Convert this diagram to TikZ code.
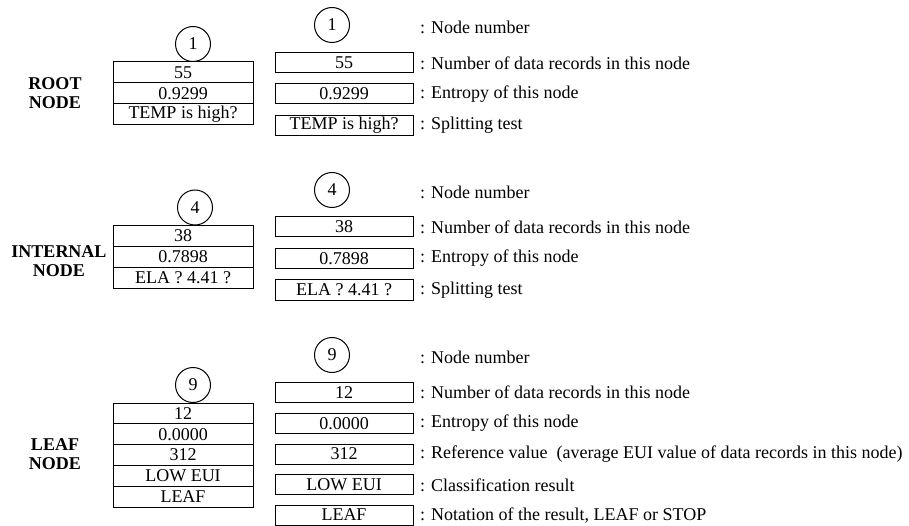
\documentclass[tikz,border=0pt]{standalone}
\usepackage{fontspec}
\setmainfont{Liberation Serif}
\begin{document}
\begin{tikzpicture}[x=1pt,y=-1pt,
  txt/.style={font=\fontsize{18}{20}\selectfont},
  cell/.style={draw,line width=1pt,minimum width=140pt,minimum height=21pt,inner sep=0pt,txt},
  lcell/.style={cell,minimum height=20.8pt},
  rbox/.style={draw,line width=1pt,minimum width=138pt,minimum height=20pt,inner sep=0pt,txt},
  num/.style={draw,circle,line width=1pt,minimum size=35pt,inner sep=0pt,txt},
  lbl/.style={anchor=west,inner sep=0pt,txt},
  kind/.style={align=center,inner sep=0pt,font=\fontsize{18}{18.5}\selectfont\bfseries}]
\useasboundingbox (0,0) rectangle (909,526);

% ---------- ROOT ----------
\node[kind] (kroot) at (55,93) {ROOT\\NODE};
\node[num] (c1) at (193,44) {1};
\node[cell] (r1) at (183,72.5) {55};
\node[cell] (r2) at (183,93.5) {0.9299};
\node[cell] (r3) at (183,114.5) {TEMP is high?};

\node[num] (rc1) at (332,25) {1};
\node[rbox] (rb1) at (344,62.5) {55};
\node[rbox] (rb2) at (344,94) {0.9299};
\node[rbox] (rb3) at (344,125.5) {TEMP is high?};
\node[lbl] (rl0) at (420,27) {: Node number};
\node[lbl] (rl1) at (420,63) {: Number of data records in this node};
\node[lbl] (rl2) at (420,94) {: Entropy of this node};
\node[lbl] (rl3) at (420,125.5) {: Splitting test};

% ---------- INTERNAL ----------
\node[kind] (kint) at (59,261) {INTERNAL\\NODE};
\node[num] (c4) at (195,207.5) {4};
\node[cell] (i1) at (183,236) {38};
\node[cell] (i2) at (183,257) {0.7898};
\node[cell] (i3) at (183,278) {ELA ? 4.41 ?};

\node[num] (ic4) at (332,190) {4};
\node[rbox] (ib1) at (344,227) {38};
\node[rbox] (ib2) at (344,258.5) {0.7898};
\node[rbox] (ib3) at (344,290) {ELA ? 4.41 ?};
\node[lbl] (il0) at (420,192) {: Node number};
\node[lbl] (il1) at (420,227) {: Number of data records in this node};
\node[lbl] (il2) at (420,258.5) {: Entropy of this node};
\node[lbl] (il3) at (420,290) {: Splitting test};

% ---------- LEAF ----------
\node[kind] (kleaf) at (55,454) {LEAF\\NODE};
\node[num] (c9) at (193,385) {9};
\node[lcell] (f1) at (183,413.4) {12};
\node[lcell] (f2) at (183,434.2) {0.0000};
\node[lcell] (f3) at (183,455) {312};
\node[lcell] (f4) at (183,475.8) {LOW EUI};
\node[lcell] (f5) at (183,496.6) {LEAF};

\node[num] (fc9) at (332,355) {9};
\node[rbox] (fb1) at (344,392.5) {12};
\node[rbox] (fb2) at (344,423.5) {0.0000};
\node[rbox] (fb3) at (344,454) {312};
\node[rbox] (fb4) at (344,484.5) {LOW EUI};
\node[rbox] (fb5) at (344,515) {LEAF};
\node[lbl] (fl0) at (420,357) {: Node number};
\node[lbl] (fl1) at (420,392.5) {: Number of data records in this node};
\node[lbl] (fl2) at (420,423.5) {: Entropy of this node};
\node[lbl] (fl3) at (420,454.5) {: Reference value\ \ (average EUI value of data records in this node)};
\node[lbl] (fl4) at (420,485) {: Classification result};
\node[lbl] (fl5) at (420,516) {: Notation of the result, LEAF or STOP};
\end{tikzpicture}
\end{document}
